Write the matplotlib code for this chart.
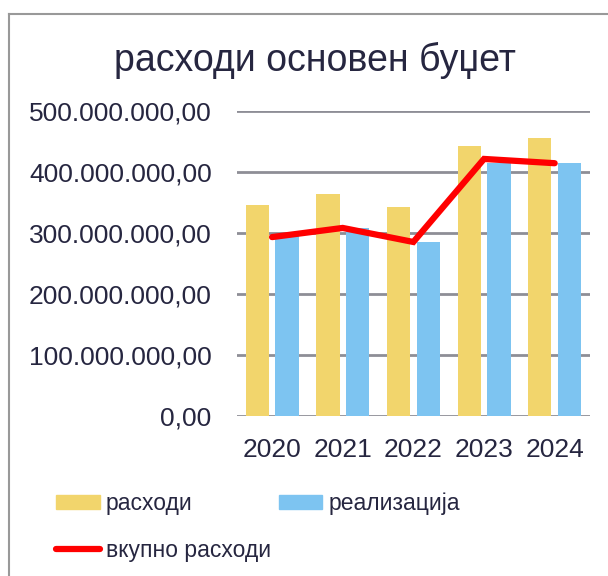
import matplotlib
matplotlib.use("Agg")
import matplotlib.pyplot as plt
from matplotlib.patches import Patch
from matplotlib.lines import Line2D
import numpy as np

years = ["2020", "2021", "2022", "2023", "2024"]
rashodi = [345e6, 363e6, 343e6, 442e6, 456e6]
realizacija = [296e6, 308e6, 285e6, 415e6, 414e6]
vkupno = [293e6, 308e6, 285e6, 421e6, 414e6]

title = "расходи основен буџет"
labels = ["расходи", "реализација", "вкупно расходи"]

yellow = "#F2D56C"
blue = "#7DC4F1"
red = "#FF0000"
txt = "#262640"
grid = "#8E8E96"

plt.rcParams['font.family'] = ['Liberation Sans', 'DejaVu Sans']

fig = plt.figure(figsize=(6.08, 5.76), dpi=100)
ax = fig.add_axes([236.7/608, 1-416/576, (590-236.7)/608, (416-110.7)/576])

x = np.arange(len(years))
w = 0.33
off = 0.21
ax.bar(x - off, rashodi, width=w, color=yellow, zorder=2)
ax.bar(x + off, realizacija, width=w, color=blue, zorder=2)
ax.plot(x, vkupno, color=red, lw=4.5, solid_capstyle='round', solid_joinstyle='miter', zorder=3)

ax.set_xlim(-0.5, 4.5)
ax.set_ylim(0, 500e6)
ax.set_yticks(np.arange(0, 500e6 + 1, 100e6))

def fmt(v, p):
    s = f"{int(round(v)):,}".replace(",", ".")
    return s + ",00"
ax.yaxis.set_major_formatter(matplotlib.ticker.FuncFormatter(fmt))
ax.set_xticks(x)
ax.set_xticklabels(years)
ax.tick_params(axis='both', length=0, labelsize=19, labelcolor=txt)
ax.tick_params(axis='y', pad=18)
ax.tick_params(axis='x', pad=15.5)
ax.grid(axis='y', color=grid, lw=2, zorder=0)
ax.set_axisbelow(True)
for s in ax.spines.values():
    s.set_visible(False)

fig.text(315/608, 1-60/576, title, ha='center', va='center', fontsize=27, color=txt)

h_r = Patch(color=yellow)
h_b = Patch(color=blue)
h_l = Line2D([], [], color=red, lw=4.5, solid_capstyle='round')
# ncol=2 fills column-wise; order so rows read: расходи, реализација / вкупно расходи
leg = fig.legend([h_r, h_l, h_b], [labels[0], labels[2], labels[1]], loc='upper left',
                 bbox_to_anchor=(56/608, 1-492/576), ncol=2,
                 frameon=False, fontsize=16.5, labelcolor=txt, handlelength=1.9, handleheight=0.6,
                 handletextpad=0.26, columnspacing=0.35, labelspacing=1.05, borderpad=0, borderaxespad=0)

# chart frame
fig.add_artist(Line2D([9/608, 9/608], [0, 1-14/576], color="#999999", lw=1.5, transform=fig.transFigure))
fig.add_artist(Line2D([9/608, 1], [1-14/576, 1-14/576], color="#999999", lw=1.5, transform=fig.transFigure))

fig.savefig("out.png", dpi=100)
